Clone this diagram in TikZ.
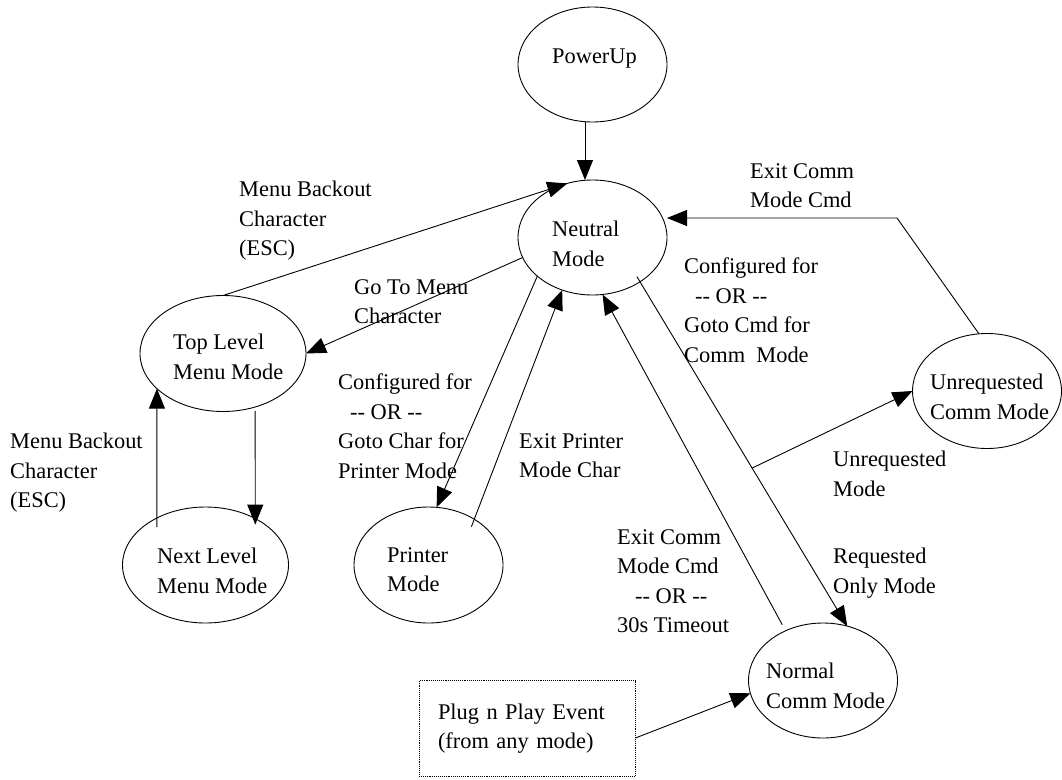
\documentclass[tikz,border=0pt]{standalone}
\usepackage{fontspec}
\setmainfont{Liberation Serif}
\usetikzlibrary{arrows.meta,shapes.geometric,calc}
\begin{document}
\begin{tikzpicture}[x=1pt,y=-1pt,
  every node/.style={font=\fontsize{22.4pt}{29.5pt}\selectfont},
  state/.style={draw, ellipse, line width=0.9pt, minimum width=149pt, minimum height=115pt, inner sep=0pt, outer sep=0pt},
  menu/.style={state, minimum width=166pt, minimum height=116pt},
  stxt/.style={anchor=north west, inner sep=0pt, align=left},
  lbl/.style={anchor=north west, inner sep=0pt, align=left},
  arr/.style={draw, line width=0.9pt, -{Triangle[length=20pt,width=16pt]}},
  plugbox/.style={draw, densely dotted, line width=0.9pt, rectangle, minimum width=216pt, minimum height=96pt, text width=178pt, inner xsep=19pt, inner ysep=0pt, align=left}]
\useasboundingbox (0,0) rectangle (1062,779);

% states
\node[state] (PowerUp) at (592.5,64.5) {};
\node[state] (Neutral) at (592.5,237.5) {};
\node[menu]  (TopLevel) at (223,353.5) {};
\node[menu]  (NextLevel) at (205.5,565) {};
\node[state, minimum height=116pt] (Printer) at (428.5,565) {};
\node[state] (Unreq) at (987,391) {};
\node[state] (Normal) at (823,680.5) {};
\node[plugbox] (Plug) at (527,728.5) {Plug n Play Event\\(from any mode)};

% state texts
\node[stxt] (tPowerUp) at ([xshift=-40.5pt,yshift=15.5pt]PowerUp.center) {PowerUp};
\node[stxt] (tNeutral) at ([xshift=-40.5pt,yshift=16.5pt]Neutral.center) {Neutral\\Mode};
\node[stxt] (tTopLevel) at ([xshift=-50pt,yshift=19.5pt]TopLevel.center) {Top Level\\Menu Mode};
\node[stxt] (tNextLevel) at ([xshift=-48.5pt,yshift=17pt]NextLevel.center) {Next Level\\Menu Mode};
\node[stxt] (tPrinter) at ([xshift=-41.5pt,yshift=18pt]Printer.center) {Printer\\Mode};
\node[stxt] (tUnreq) at ([xshift=-57pt,yshift=17pt]Unreq.center) {Unrequested\\Comm Mode};
\node[stxt] (tNormal) at ([xshift=-57pt,yshift=17.5pt]Normal.center) {Normal\\Comm Mode};

% edge labels
\node[lbl] (lMBup) at (239,181) {Menu Backout\\Character\\(ESC)};
\node[lbl] (lGoTo) at (354,279) {Go To Menu\\Character};
\node[lbl] (lCfgL) at (338,374) {Configured for\\\hspace*{12pt}-{}- OR -{}-\\Goto Char for\\Printer Mode};
\node[lbl] (lMBleft) at (10,433) {Menu Backout\\Character\\(ESC)};
\node[lbl] (lExitPr) at (519,433) {Exit Printer\\Mode Char};
\node[lbl] (lExitTop) at (750,163) {Exit Comm\\Mode Cmd};
\node[lbl] (lCfgR) at (684,258) {Configured for\\\hspace*{11pt}-{}- OR -{}-\\Goto Cmd for\\Comm\ \ Mode};
\node[lbl] (lUnreq) at (833,451) {Unrequested\\Mode};
\node[lbl] (lReq) at (833,548) {Requested\\Only Mode};
\node[lbl] (lExitComm) at (617,529) {Exit Comm\\Mode Cmd\\\hspace*{18pt}-{}- OR -{}-\\30s Timeout};

% connectors
\draw[arr] ([xshift=-7.5pt]PowerUp.south) -- ([xshift=-7.5pt]Neutral.north);
\draw[arr] (TopLevel.north) -- (Neutral.115);
\draw[arr] (Neutral.196) -- (TopLevel.east);
\draw[arr, shorten <=4pt, shorten >=-6pt] (TopLevel.301) -- (NextLevel.43);
\draw[arr, shorten <=-9pt] (NextLevel.136) -- (TopLevel.208);
\draw[arr] (Neutral.215) -- (Printer.82);
\draw[arr, shorten <=-8pt] (Printer.45) -- (Neutral.240);
\draw[arr, shorten <=7pt] (Normal.127) -- (Neutral.280);
\draw[arr, shorten <=-6pt] (Neutral.317) -- (Normal.66);
\coordinate (j) at ($(Neutral.317)!0.541!(Normal.66)$);
\draw[arr] (j) -- (Unreq.west);
\coordinate (bend) at (897,218);
\draw[arr] (Unreq.98) -- (bend) -- (bend -| Neutral.east);
\draw[arr] (Plug.355) -- (Normal.190);
\end{tikzpicture}
\end{document}
